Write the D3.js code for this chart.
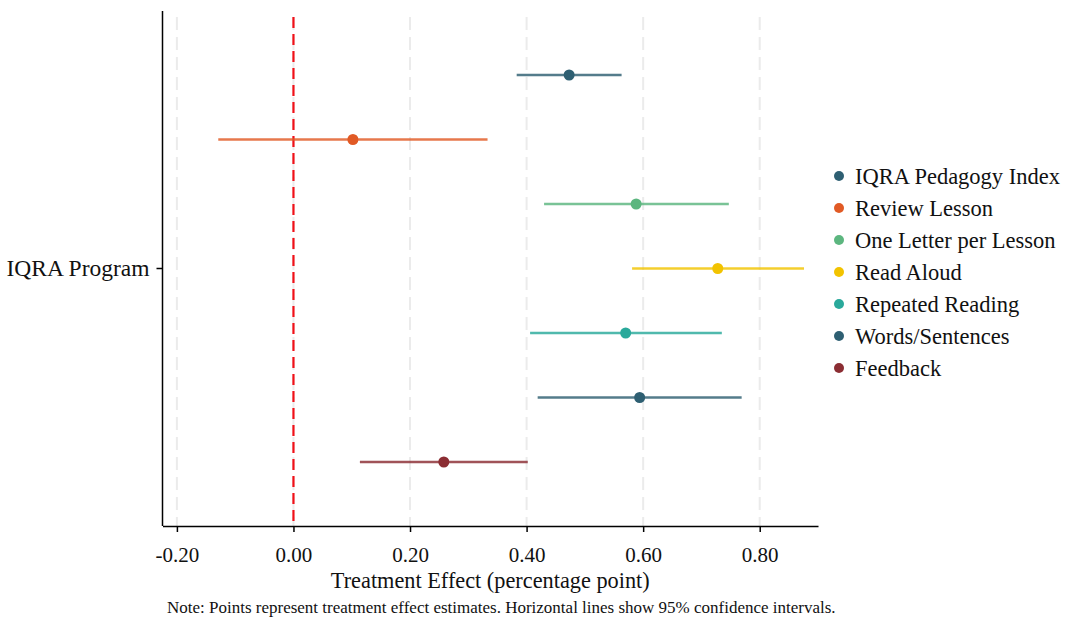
<!DOCTYPE html>
<html>
<head>
<meta charset="utf-8">
<script src="https://cdn.jsdelivr.net/npm/d3@7"></script>
<style>
  body { margin: 0; background: #fff; }
  svg { display: block; font-family: "Liberation Serif", "Times New Roman", serif; }
</style>
</head>
<body>
<svg id="chart" width="1065" height="623"></svg>
<script>
const outcomes = ["IQRA Pedagogy Index", "Review Lesson", "One Letter per Lesson", "Read Aloud", "Repeated Reading", "Words/Sentences", "Feedback"];
const estimates = [0.473, 0.102, 0.588, 0.728, 0.570, 0.594, 0.258];
const ciLow = [0.383, -0.129, 0.430, 0.581, 0.406, 0.419, 0.114];
const ciHigh = [0.563, 0.333, 0.747, 0.876, 0.735, 0.769, 0.402];
const colors = ["#2e5f72", "#e15a25", "#5cb67f", "#f2c300", "#2aa99b", "#2e5f72", "#8b2d33"];
const xTicks = [-0.2, 0, 0.2, 0.4, 0.6, 0.8];
const groupLabel = "IQRA Program";

const svg = d3.select("#chart");
const mLeft = 162.5, mRight = 818, mTop = 11, mBottom = 526;

const x = d3.scaleLinear().domain([-0.2247, 0.9]).range([mLeft, mRight]);
const y = d3.scalePoint().domain(outcomes).range([75, 462]);
const yGroup = d3.scalePoint().domain([groupLabel]).range([268, 268]);

// gridlines
svg.append("g").selectAll("line").data(xTicks).join("line")
  .attr("x1", d => x(d)).attr("x2", d => x(d))
  .attr("y1", 17).attr("y2", mBottom)
  .attr("stroke", "#ebebeb").attr("stroke-width", 2)
  .attr("stroke-dasharray", "13,7");

// zero reference line
svg.append("line")
  .attr("x1", x(0)).attr("x2", x(0)).attr("y1", 17).attr("y2", mBottom)
  .attr("stroke", "#f01018").attr("stroke-width", 2.2)
  .attr("stroke-dasharray", "11,6");

// x axis
const xAxis = svg.append("g").attr("transform", `translate(0,${mBottom})`)
  .call(d3.axisBottom(x).tickValues(xTicks).tickFormat(d3.format(".2f")).tickSize(6).tickSizeOuter(0));
xAxis.select(".domain").attr("stroke", "#000").attr("stroke-width", 1.5);
xAxis.selectAll(".tick line").attr("stroke", "#000").attr("stroke-width", 1.5);
xAxis.selectAll(".tick text").attr("font-size", 21).attr("dy", "1.3em")
  .attr("font-family", "Liberation Serif").attr("fill", "#111")
  .text(d => d < 0 ? "-" + d3.format(".2f")(-d) : d3.format(".2f")(d));

// y axis
const yAxis = svg.append("g").attr("transform", `translate(${mLeft},0)`)
  .call(d3.axisLeft(yGroup).tickSize(6).tickSizeOuter(0));
yAxis.select(".domain").attr("d", `M0,${mTop}V${mBottom}`).attr("stroke", "#000").attr("stroke-width", 1.5);
yAxis.selectAll(".tick line").attr("stroke", "#000").attr("stroke-width", 1.5);
yAxis.selectAll(".tick text").attr("font-size", 23.5).attr("x", -13)
  .attr("font-family", "Liberation Serif").attr("fill", "#111");

// CI lines
const data = outcomes.map((o, i) => ({o, est: estimates[i], lo: ciLow[i], hi: ciHigh[i], c: colors[i]}));
svg.append("g").selectAll("line").data(data).join("line")
  .attr("x1", d => x(d.lo)).attr("x2", d => x(d.hi))
  .attr("y1", d => y(d.o)).attr("y2", d => y(d.o))
  .attr("stroke", d => d.c).attr("stroke-width", 2.5).attr("stroke-opacity", 0.82);

// points
svg.append("g").selectAll("circle").data(data).join("circle")
  .attr("cx", d => x(d.est)).attr("cy", d => y(d.o)).attr("r", 5.5)
  .attr("fill", d => d.c);

// legend
const legend = svg.append("g").selectAll("g").data(data).join("g")
  .attr("transform", (d, i) => `translate(839,${176 + i * 32})`);
legend.append("circle").attr("r", 5).attr("fill", d => d.c);
legend.append("text").attr("x", 16).attr("dy", "0.35em")
  .attr("font-size", 22.5).attr("fill", "#111").text(d => d.o);

// axis title
svg.append("text").attr("x", (mLeft + mRight) / 2).attr("y", 588)
  .attr("text-anchor", "middle").attr("font-size", 22.3).attr("fill", "#111")
  .text("Treatment Effect (percentage point)");

// note
svg.append("text").attr("x", 167).attr("y", 613)
  .attr("font-size", 17).attr("fill", "#111")
  .text("Note: Points represent treatment effect estimates. Horizontal lines show 95% confidence intervals.");
</script>
</body>
</html>
